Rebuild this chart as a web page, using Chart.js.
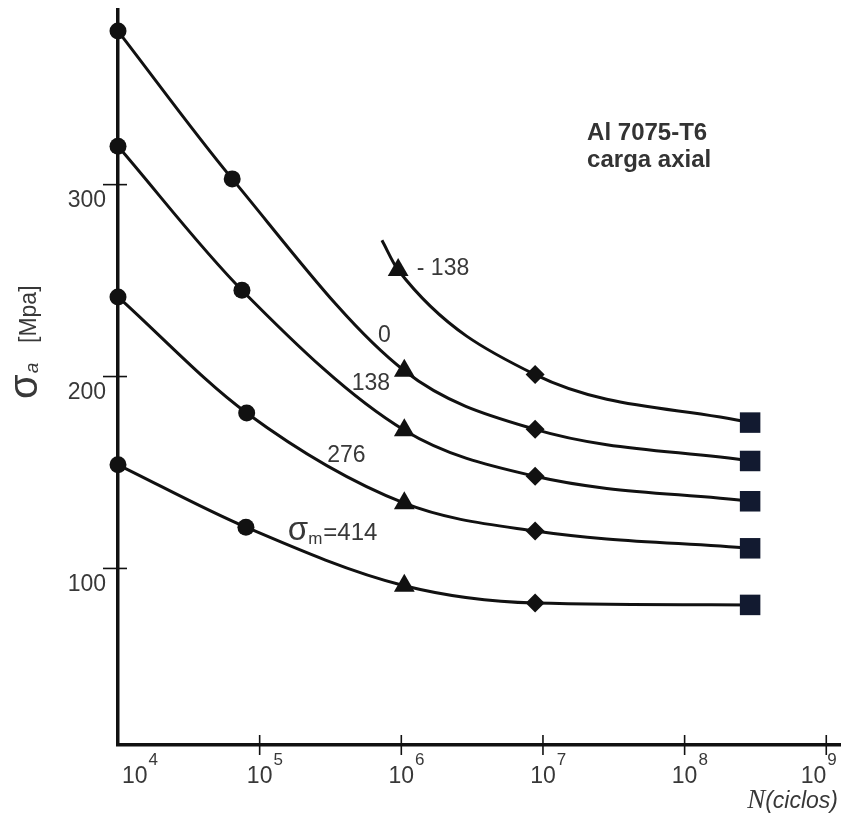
<!DOCTYPE html>
<html>
<head>
<meta charset="utf-8">
<script src="https://cdn.jsdelivr.net/npm/chart.js@4.4.1/dist/chart.umd.min.js"></script>
<style>
  html, body { margin: 0; padding: 0; background: #fff; overflow: hidden; }
  #wrap { width: 842px; height: 818px; position: relative; }
  #sn { display: block; }
</style>
</head>
<body>
<div id="wrap"><canvas id="sn"></canvas></div>
<script>
// S-N curves, Al 7075-T6 axial load, one curve per mean stress (MPa)
var meanStress = ['-138', '0', '138', '276', '414'];

var nNeg138 = [7.3e5, 9.5e5, 8.8e6, 2.9e8];
var sNeg138 = [271, 255.5, 201, 176];

var n0 = [1e4, 6.4e4, 1.05e6, 8.8e6, 2.9e8];
var s0 = [380, 303, 203, 172.5, 156];

var n138 = [1e4, 7.5e4, 1.05e6, 8.8e6, 2.9e8];
var s138 = [320, 245, 172, 148, 135];

var n276 = [1e4, 8.1e4, 1.05e6, 8.8e6, 2.9e8];
var s276 = [241.5, 181, 134, 119.5, 110.5];

var n414 = [1e4, 8e4, 1.05e6, 8.8e6, 2.9e8];
var s414 = [154, 121.5, 91, 82, 81];

var xTicks = [1e4, 1e5, 1e6, 1e7, 1e8, 1e9];
var yTicks = [100, 200, 300];

// marker per point: circle, circle, triangle, diamond, square
var marks = ['circle', 'circle', 'triangle', 'rectRot', 'rect'];
var sizes = [8.5, 8.5, 12, 9.5, 14.5];
var fills = ['#111', '#111', '#111', '#111', '#121a30'];

function pts(n, s) {
  return n.map(function (v, i) { return { x: v, y: s[i] }; });
}

function curve(label, n, s, first) {
  // first = index into marks for the first point
  var m = marks.slice(first), r = sizes.slice(first), f = fills.slice(first);
  return {
    label: label,
    data: pts(n, s),
    borderColor: '#111',
    borderWidth: 3,
    cubicInterpolationMode: 'monotone',
    pointStyle: m,
    pointRadius: r,
    pointBackgroundColor: f,
    pointBorderColor: f,
    pointBorderWidth: 0,
    clip: false
  };
}

// -138 curve starts with a bare line end, no marker
var dsNeg = curve(meanStress[0], nNeg138, sNeg138, 1);
dsNeg.pointRadius = [0].concat(sizes.slice(2));
dsNeg.pointStyle = ['circle'].concat(marks.slice(2));
dsNeg.pointBackgroundColor = ['#111'].concat(fills.slice(2));
dsNeg.pointBorderColor = dsNeg.pointBackgroundColor;

var TXT = '#383838';
var SANS = '"Liberation Sans", Arial, sans-serif';

var decor = {
  id: 'decor',
  afterDraw: function (chart) {
    var ctx = chart.ctx, a = chart.chartArea;
    var xs = chart.scales.x, ys = chart.scales.y;
    ctx.save();

    // tick marks crossing the axes
    ctx.strokeStyle = '#111';
    ctx.lineWidth = 1.6;
    xTicks.slice(1).forEach(function (v) {
      var px = xs.getPixelForValue(v);
      ctx.beginPath(); ctx.moveTo(px, a.bottom - 10); ctx.lineTo(px, a.bottom + 10); ctx.stroke();
    });
    yTicks.forEach(function (v) {
      var py = ys.getPixelForValue(v);
      ctx.beginPath(); ctx.moveTo(a.left - 15, py); ctx.lineTo(a.left + 9, py); ctx.stroke();
    });

    // y tick labels, sitting just under their tick
    ctx.fillStyle = TXT;
    ctx.font = '23px ' + SANS;
    ctx.textAlign = 'right';
    ctx.textBaseline = 'top';
    yTicks.forEach(function (v) {
      ctx.fillText(String(v), a.left - 12, ys.getPixelForValue(v) + 5);
    });

    // x tick labels 10^k
    ctx.textBaseline = 'alphabetic';
    ctx.textAlign = 'left';
    xTicks.forEach(function (v, i) {
      var px = xs.getPixelForValue(v);
      var exp = String(Math.round(Math.log10(v)));
      ctx.font = '23px ' + SANS;
      var w = ctx.measureText('10').width;
      var x0 = px - w / 2;
      if (i === 0) x0 = px + 4;
      if (i === xTicks.length - 1) x0 = px - w;
      ctx.fillText('10', x0, a.bottom + 38);
      ctx.font = '17px ' + SANS;
      ctx.fillText(exp, x0 + w + 1, a.bottom + 20);
    });

    // x axis title: N(ciclos)
    ctx.textAlign = 'left';
    ctx.font = 'italic 23px ' + SANS;
    var wc = ctx.measureText('(ciclos)').width;
    ctx.fillText('(ciclos)', 838 - wc, 808);
    ctx.font = 'italic 27px "Liberation Serif", serif';
    var wn = ctx.measureText('N').width;
    ctx.fillText('N', 838 - wc - wn, 808);

    // y axis title: sigma_a [Mpa], rotated
    ctx.save();
    ctx.translate(37, 399);
    ctx.rotate(-Math.PI / 2);
    ctx.font = '40px ' + SANS;
    ctx.fillText('σ', 0, 0);
    var ws = ctx.measureText('σ').width;
    ctx.font = 'italic 19px ' + SANS;
    ctx.fillText('a', ws + 1, 1);
    ctx.font = '23px ' + SANS;
    ctx.fillText('[Mpa]', 56, -1);
    ctx.restore();

    // curve labels
    ctx.font = '23px ' + SANS;
    ctx.textAlign = 'center';
    var labs = [
      ['- 138', 1.97e6, 253],
      ['0', 7.6e5, 218],
      ['138', 6.1e5, 193],
      ['276', 4.1e5, 155.5]
    ];
    labs.forEach(function (l) {
      ctx.fillText(l[0], xs.getPixelForValue(l[1]), ys.getPixelForValue(l[2]));
    });

    // sigma_m = 414
    ctx.textAlign = 'left';
    var lx = xs.getPixelForValue(1.58e5), ly = ys.getPixelForValue(114.8);
    ctx.font = '33px ' + SANS;
    ctx.fillText('σ', lx, ly);
    lx += ctx.measureText('σ').width;
    ctx.font = '17px ' + SANS;
    ctx.fillText('m', lx, ly + 4);
    lx += ctx.measureText('m').width + 1;
    ctx.font = '24px ' + SANS;
    ctx.fillText('=414', lx, ly);

    // material note
    ctx.font = 'bold 24px ' + SANS;
    ctx.fillStyle = '#333';
    var tx = xs.getPixelForValue(2.05e7);
    ctx.fillText('Al 7075-T6', tx, ys.getPixelForValue(323.5));
    ctx.fillText('carga axial', tx, ys.getPixelForValue(309));

    ctx.restore();
  }
};

Chart.defaults.font.family = SANS;

new Chart(document.getElementById('sn'), {
  type: 'line',
  data: {
    datasets: [
      dsNeg,
      curve(meanStress[1], n0, s0, 0),
      curve(meanStress[2], n138, s138, 0),
      curve(meanStress[3], n276, s276, 0),
      curve(meanStress[4], n414, s414, 0)
    ]
  },
  options: {
    responsive: true,
    maintainAspectRatio: false,
    animation: false,
    layout: { autoPadding: false, padding: { top: 10, right: 2, bottom: 0, left: 0 } },
    plugins: { legend: { display: false }, tooltip: { enabled: false } },
    scales: {
      x: {
        type: 'logarithmic',
        min: 1e4,
        max: 1.25e9,
        afterBuildTicks: function (s) { s.ticks = xTicks.map(function (v) { return { value: v }; }); },
        afterFit: function (s) { s.height = 73; },
        ticks: { display: false },
        grid: { display: false },
        border: { display: true, color: '#111', width: 3.5 }
      },
      y: {
        type: 'linear',
        min: 8,
        max: 391,
        afterBuildTicks: function (s) { s.ticks = yTicks.map(function (v) { return { value: v }; }); },
        afterFit: function (s) { s.width = 118; },
        ticks: { display: false },
        grid: { display: false },
        border: { display: true, color: '#111', width: 3.5 }
      }
    }
  },
  plugins: [decor]
});
</script>
</body>
</html>
